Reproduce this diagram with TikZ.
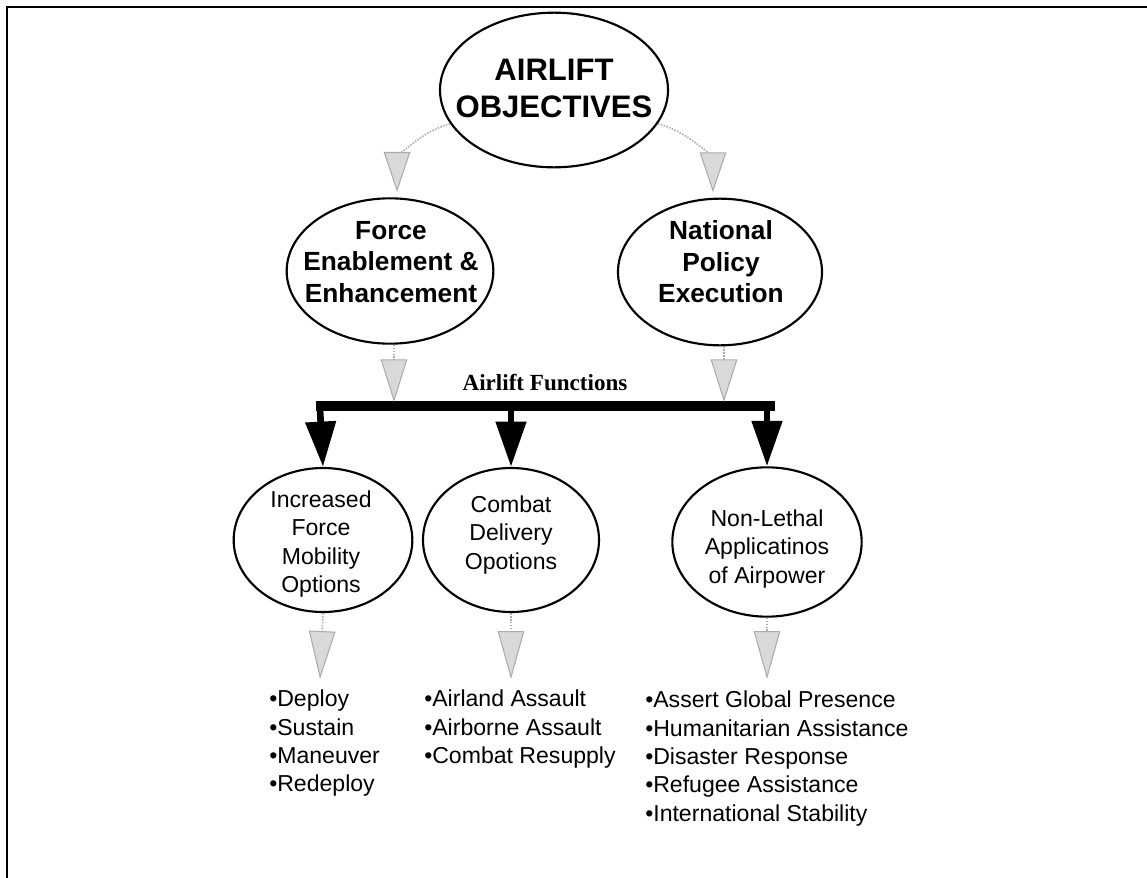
\documentclass[tikz,border=0pt]{standalone}
\usepackage{fontspec}
\usetikzlibrary{arrows.meta,calc,shapes.geometric}
\newfontfamily\arialF{Liberation Sans}
\newfontfamily\serifF{Liberation Serif}
\begin{document}
\begin{tikzpicture}[x=0.75pt,y=-0.75pt,
  oval/.style={draw,ellipse,line width=1.6pt,inner sep=0pt},
  bigtxt/.style={align=center,font=\arialF\bfseries\fontsize{23.3}{27.8}\selectfont},
  midtxt/.style={align=center,font=\arialF\bfseries\fontsize{19.7}{23.6}\selectfont},
  lowtxt/.style={align=center,font=\arialF\fontsize{17.3}{21.2}\selectfont},
  listtxt/.style={align=left,anchor=north west,inner sep=0pt,font=\arialF\fontsize{17.3}{21.2}\selectfont},
  grayarrow/.style={draw=gray!65,line width=1.2pt,densely dotted,
    -{Triangle[length=#1,width=20pt,fill=gray!30,color=gray!65,line width=0.8pt]}},
  grayarrow/.default=32pt,
  blackarrow/.style={line width=5pt,-{Triangle[length=34pt,width=22pt]}},
  frame/.style={line width=2.2pt}
]
\useasboundingbox (0,0) rectangle (1147,878);
% frame
\draw[frame] (7,878) -- (7,7) -- (1147,7);

% ellipses
\node[oval,minimum width=171pt,minimum height=116pt] (obj) at (554,90) {};
\node[bigtxt] (objt) at (554,88) {AIRLIFT\\OBJECTIVES};

\node[oval,minimum width=155pt,minimum height=109pt] (force) at (390,271) {};
\node[midtxt] (forcet) at (391,262) {Force\\Enablement \&\\Enhancement};

\node[oval,minimum width=153pt,minimum height=110pt] (natl) at (720,272) {};
\node[midtxt] (natlt) at (721,262) {National\\Policy\\Execution};

\node[oval,minimum width=134pt,minimum height=108pt] (incr) at (323,540) {};
\node[lowtxt] (incrt) at (321,544) {Increased\\Force\\Mobility\\Options};

\node[oval,minimum width=132pt,minimum height=108pt] (comb) at (511,540) {};
\node[lowtxt] (combt) at (511,535) {Combat\\Delivery\\Opotions};

\node[oval,minimum width=142pt,minimum height=112pt] (nonl) at (767,542) {};
\node[lowtxt] (nonlt) at (767,549) {Non-Lethal\\Applicatinos\\of Airpower};

% curved gray arrows
\draw[grayarrow=30pt,shorten >=4pt] (obj.198) to[out=195,in=90] ($(force.north)+(7,0)$);
\draw[grayarrow=30pt,shorten >=4pt] (obj.-18) to[out=-15,in=90] ($(natl.north)+(-7,0)$);

% bar
\coordinate (barL) at (316,406);
\coordinate (barR) at (775,406);
\draw[line width=7.5pt] (barL) -- (barR);
\node[font=\serifF\bfseries\fontsize{17.3}{19}\selectfont,anchor=base] (aft) at (545,390) {Airlift Functions};

\coordinate (bf) at (394,402);
\coordinate (bn) at (724,402);
\draw[grayarrow] ($(force.south)+(4,0)$) -- (bf);
\draw[grayarrow] ($(natl.south)+(4,0)$) -- (bn);

% black arrows
\draw[blackarrow] (320,409) -- (incr.north);
\draw[blackarrow] (511,409) -- (comb.north);
\draw[blackarrow] (767,409) -- (nonl.north);

% lists
\node[listtxt] (la) at (269,690) {•Deploy\\•Sustain\\•Maneuver\\•Redeploy};
\node[listtxt] (lb) at (424,690) {•Airland Assault\\•Airborne Assault\\•Combat Resupply};
\node[listtxt] (lc) at (645,691) {•Assert Global Presence\\•Humanitarian Assistance\\•Disaster Response\\•Refugee Assistance\\•International Stability};

\coordinate (ta) at (320,679);
\coordinate (tb) at (511,679);
\coordinate (tc) at (767,679);
\draw[grayarrow=36pt] (incr.south) -- (ta);
\draw[grayarrow=36pt] (comb.south) -- (tb);
\draw[grayarrow=36pt] (nonl.south) -- (tc);
\end{tikzpicture}
\end{document}
